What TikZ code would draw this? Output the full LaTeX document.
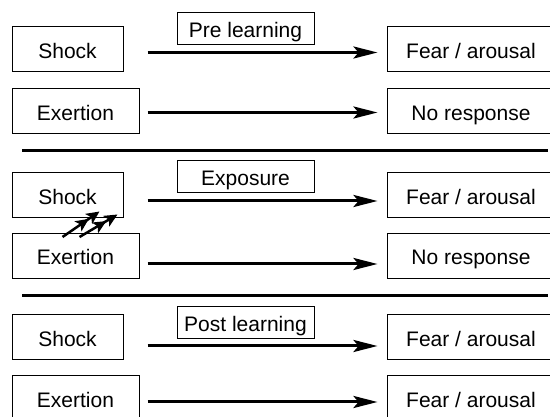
\documentclass[tikz,border=0pt]{standalone}
\usepackage{fontspec}
\setmainfont{Liberation Sans}
\usetikzlibrary{arrows.meta,positioning}

\begin{document}
\begin{tikzpicture}[x=1pt, y=-1pt, >=Stealth,
    box/.style={draw, line width=1pt, minimum height=45pt, inner sep=0pt,
                text height=18pt, text depth=0pt,
                font=\fontsize{21}{25}\selectfont},
    stim/.style={box, minimum width=111pt},
    stimw/.style={box, minimum width=127pt},
    resp/.style={box, minimum width=168pt},
    phase/.style={box, minimum width=137pt, minimum height=32pt},
    arr/.style={line width=3pt, -{Stealth[length=24pt, width=12pt, inset=5pt]}},
    link/.style={line width=2.5pt, -{Stealth[length=13pt, width=12pt, inset=3pt]Stealth[length=13pt, width=12pt, inset=3pt]}},
    sep/.style={line width=3pt}]
  \useasboundingbox (0,0) rectangle (550,417);

  % pre learning
  \node[stim] (sh1) at (67.5,49.5) {Shock};
  \node[stimw] (ex1) at (75.5,111.5) {Exertion};
  \node[resp, right=263pt of sh1] (fr1) {Fear / arousal};
  \node[resp, right=247pt of ex1] (nr1) {No response};
  \node[phase] (pre) at (245.5,29) {Pre learning};

  \draw[arr, shorten <=24pt, shorten >=9pt] ([yshift=-3pt]sh1.east) -- ([yshift=-3pt]fr1.west);
  \draw[arr, shorten <=8pt, shorten >=9pt] ([yshift=-1pt]ex1.east) -- ([yshift=-1pt]nr1.west);

  \draw[sep] (22,151) -- (548,151);

  % exposure
  \node[stim] (sh2) at (67.5,195.5) {Shock};
  \node[stimw] (ex2) at (75.5,256) {Exertion};
  \node[resp, right=263pt of sh2] (fr2) {Fear / arousal};
  \node[resp, right=247pt of ex2] (nr2) {No response};
  \node[phase] (exp) at (245.5,177) {Exposure};

  \draw[arr, shorten <=24pt, shorten >=9pt] ([yshift=-5.5pt]sh2.east) -- ([yshift=-5.5pt]fr2.west);
  \draw[arr, shorten <=8pt, shorten >=9pt] ([yshift=-8pt]ex2.east) -- ([yshift=-8pt]nr2.west);
  \draw[link] ([shift={(51,4)}]ex2.north west) -- ([shift={(88,-7)}]sh2.south west);
  \draw[link] ([shift={(68,4)}]ex2.north west) -- ([shift={(106,-4)}]sh2.south west);

  \draw[sep] (22,296) -- (548,296);

  % post learning
  \node[stim] (sh3) at (67.5,337.5) {Shock};
  \node[stimw] (ex3) at (75.5,398.5) {Exertion};
  \node[resp, right=263pt of sh3] (fr3) {Fear / arousal};
  \node[resp, right=247pt of ex3] (fr4) {Fear / arousal};
  \node[phase] (post) at (245.5,323) {Post learning};

  \draw[arr, shorten <=24pt, shorten >=9pt] ([yshift=-8.5pt]sh3.east) -- ([yshift=-8.5pt]fr3.west);
  \draw[arr, shorten <=8pt, shorten >=9pt] ([yshift=-3.5pt]ex3.east) -- ([yshift=-3.5pt]fr4.west);
\end{tikzpicture}
\end{document}
